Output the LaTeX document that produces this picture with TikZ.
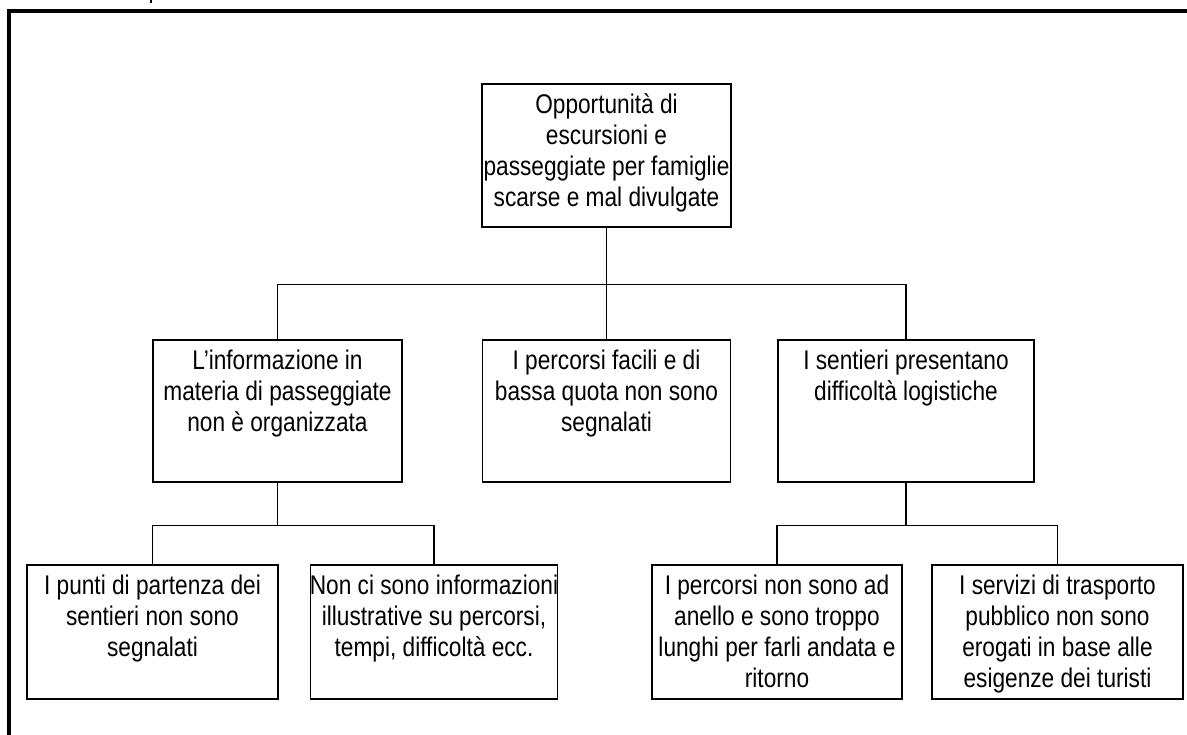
\documentclass[tikz,border=0pt]{standalone}
\usepackage{fontspec}
\setmainfont[FakeStretch=0.84]{Liberation Sans}
\newcommand\cellfont{\fontsize{27}{31}\selectfont}
\tikzset{
  cell/.style={draw, line width=1.2pt, inner sep=0pt},
  celltext/.style={anchor=north, inner sep=0pt, align=center, font=\cellfont,
    yshift=-10pt},
  link/.style={line width=1.2pt},
}
\begin{document}
\begin{tikzpicture}[x=1pt, y=-1pt]
\useasboundingbox (0,0) rectangle (1187,735);

% outer frame (open on the right and bottom)
\draw[line width=4pt] (8.7,735) -- (8.7,11.5) -- (1187,11.5);
\fill (149.5,0) rectangle (151.5,3.5);

% root
\node[cell, minimum width=249pt, minimum height=143pt,
  label={[celltext]north:{Opportunità di\\escursioni e\\passeggiate per famiglie\\scarse e mal divulgate}}]
  (top) at (606.5,155.5) {};

% second level
\node[cell, minimum width=249pt, minimum height=142pt,
  label={[celltext]north:{L’informazione in\\materia di passeggiate\\non è organizzata}}]
  (info) at (277.5,411) {};
\node[cell, minimum width=248pt, minimum height=142pt,
  label={[celltext]north:{I percorsi facili e di\\bassa quota non sono\\segnalati}}]
  (facili) at (606.5,411) {};
\node[cell, minimum width=256pt, minimum height=142pt,
  label={[celltext]north:{I sentieri presentano\\difficoltà logistiche}}]
  (sentieri) at (906,411) {};

% third level
\node[cell, minimum width=251pt, minimum height=134pt,
  label={[celltext]north:{I punti di partenza dei\\sentieri non sono\\segnalati}}]
  (punti) at (152.5,632) {};
\node[cell, minimum width=247pt, minimum height=134pt,
  label={[celltext]north:{Non ci sono informazioni\\illustrative su percorsi,\\tempi, difficoltà ecc.}}]
  (illustr) at (434,632) {};
\node[cell, minimum width=250pt, minimum height=134pt,
  label={[celltext]north:{I percorsi non sono ad\\anello e sono troppo\\lunghi per farli andata e\\ritorno}}]
  (anello) at (777,632) {};
\node[cell, minimum width=251pt, minimum height=134pt,
  label={[celltext]north:{I servizi di trasporto\\pubblico non sono\\erogati in base alle\\esigenze dei turisti}}]
  (servizi) at (1057.5,632) {};

% connectors
\draw[link] (top.south) -- ++(0,57) coordinate (j0);
\draw[link] (info.north) |- (j0) -| (sentieri.north);
\draw[link] (j0) -- (facili.north);

\draw[link] (info.south) -- ++(0,43) coordinate (j1);
\draw[link] (punti.north) |- (j1) -| (illustr.north);

\draw[link] (sentieri.south) -- ++(0,43) coordinate (j2);
\draw[link] (anello.north) |- (j2) -| (servizi.north);
\end{tikzpicture}
\end{document}
